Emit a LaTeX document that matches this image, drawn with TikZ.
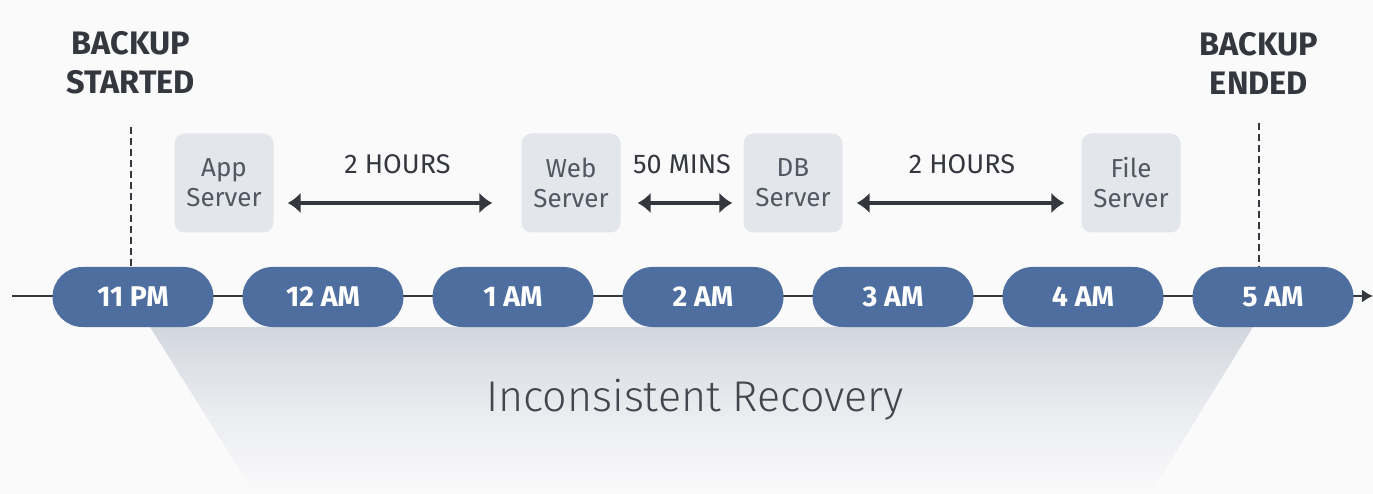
\documentclass[tikz,border=0pt]{standalone}
\usepackage{fontspec}
\setmainfont{Fira Sans}
\newfontfamily\lightfont{Fira Sans Light}
\usetikzlibrary{positioning,arrows.meta,shapes}
\definecolor{pillBlue}{RGB}{78,110,160}
\definecolor{boxGray}{RGB}{227,230,235}
\definecolor{inkDark}{RGB}{52,56,62}
\definecolor{inkServer}{RGB}{82,88,98}
\definecolor{fadeGray}{RGB}{210,214,222}
\definecolor{paper}{RGB}{250,250,251}

\begin{document}
\begin{tikzpicture}[x=1pt,y=-1pt,
    pill/.style={fill=pillBlue, text=white, font=\bfseries\fontsize{28.5}{30}\selectfont,
      minimum width=161pt, minimum height=60pt, rounded corners=30pt, inner sep=0pt},
    server/.style={fill=boxGray, text=inkServer, rounded corners=10pt, align=center,
      minimum width=99pt, minimum height=99pt, inner sep=0pt, font=\fontsize{26}{30}\selectfont},
    span/.style={{Latex[length=13pt,width=21pt]}-{Latex[length=13pt,width=21pt]}, line width=4pt, draw=inkDark},
    spanlabel/.style={text=inkDark, font=\fontsize{27}{30}\selectfont},
    backup/.style={text=inkDark, align=center, font=\bfseries\fontsize{32.5}{39}\selectfont},
    marker/.style={draw=inkDark, line width=2pt, dash pattern=on 7pt off 4pt}]

      % the page
      \fill[paper] (0,0) rectangle (1373,494);
      \useasboundingbox (0,0) rectangle (1373,494);

      % draw the recovery funnel
      \shade[top color=fadeGray, bottom color=paper, middle color=paper!60!fadeGray]
        (150,327) -- (1253,327) -- (1150,494) -- (255,494) -- cycle;
      \node[text=inkServer!80!black, font=\lightfont\fontsize{43}{48}\selectfont] (recovery) at (695,400) {Inconsistent Recovery};

      % draw the time axis
      \coordinate (axisstart) at (12,296);
      \coordinate (axisend) at (1373,296);
      \draw[line width=2pt, inkDark, -{Latex[length=11pt,width=13pt]}] (axisstart) -- (axisend);

      % draw the hours
      \def\hours{11 PM,12 AM,1 AM,2 AM,3 AM,4 AM,5 AM}
      \foreach \h [count=\hi] in \hours
        \node[pill] (t\hi) at ({133+(\hi-1)*190},297) {\h};

      % draw the servers
      \node[server] (app)  at (224,183) {App\\Server};
      \node[server] (web)  at (571,183) {Web\\Server};
      \node[server] (db)   at (793,183) {DB\\Server};
      \node[server] (file) at (1131,183) {File\\Server};

      % draw the durations
      \draw[span, shorten <=14pt, shorten >=29pt] ([yshift=-20pt]app.east) -- ([yshift=-20pt]web.west)
        node[midway, above=24pt, spanlabel] (d1) {2 HOURS};
      \draw[span, shorten <=17pt, shorten >=11pt] ([yshift=-20pt]web.east) -- ([yshift=-20pt]db.west)
        node[midway, above=24pt, spanlabel] (d2) {50 MINS};
      \draw[span, shorten <=14pt, shorten >=17pt] ([yshift=-20pt]db.east) -- ([yshift=-20pt]file.west)
        node[midway, above=24pt, spanlabel] (d3) {2 HOURS};

      % start and end of the backup
      \node[backup] (started) at (131,63) {BACKUP\\STARTED};
      \node[backup] (ended) at (1259,63) {BACKUP\\ENDED};
      \coordinate (m1) at (131,127);
      \coordinate (m2) at (1259,123);
      \draw[marker] (m1) -- (m1 |- t1.north);
      \draw[marker] (m2) -- (m2 |- t7.north);

    \end{tikzpicture}
\end{document}
